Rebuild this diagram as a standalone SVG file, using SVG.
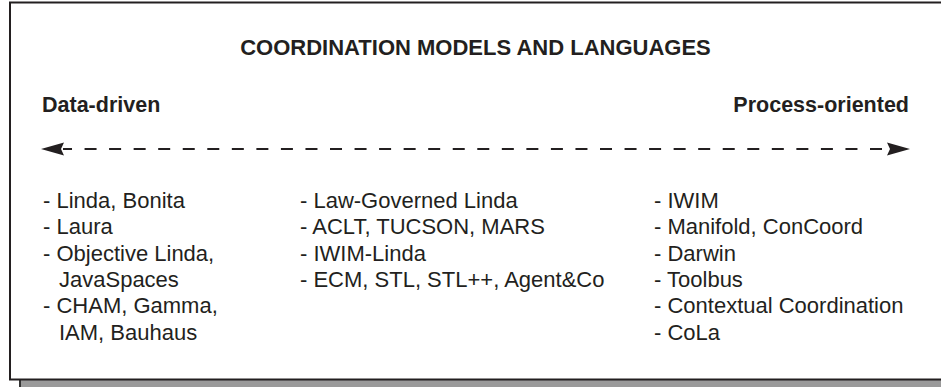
<svg xmlns="http://www.w3.org/2000/svg" width="941" height="387" viewBox="0 0 941 387">
<style>
  text { font-family: "Liberation Sans", Arial, sans-serif; fill: #231f20; }
  .title { font-size: 22px; font-weight: bold; }
  .head { font-size: 21.5px; font-weight: bold; }
  .item { font-size: 22px; }
  .frame { fill: #ffffff; stroke: #231f20; stroke-width: 2; }
  .shadow { fill: #9a9a9a; stroke: #333333; stroke-width: 2; }
  .axis { fill: none; stroke: #231f20; stroke-width: 2; stroke-dasharray: 12 12.545; }
  .head-arrow { fill: #231f20; stroke: none; }
</style>
<rect class="shadow" x="20" y="379" width="930" height="12"/>
<rect class="frame" x="10" y="2.5" width="940" height="377"/>
<g id="title">
  <text class="title" x="475.5" y="55" text-anchor="middle">COORDINATION MODELS AND LANGUAGES</text>
</g>
<g id="data-driven">
  <text class="head" x="42" y="112">Data-driven</text>
</g>
<g id="process-oriented">
  <text class="head" x="909" y="112" text-anchor="end">Process-oriented</text>
</g>
<g id="connectors">
  <path class="axis" d="M882,149 L63,149"/>
  <polygon class="head-arrow" points="41,149 64,142.5 61,149 64,155.5"/>
  <polygon class="head-arrow" points="910,149 887,142.5 890,149 887,155.5"/>
</g>
<g id="data-driven-list">
  <text class="item" x="43" y="208">- Linda, Bonita</text>
  <text class="item" x="43" y="234.3">- Laura</text>
  <text class="item" x="43" y="260.6">- Objective Linda,</text>
  <text class="item" x="59" y="286.9">JavaSpaces</text>
  <text class="item" x="43" y="313.2">- CHAM, Gamma,</text>
  <text class="item" x="59" y="339.5">IAM, Bauhaus</text>
</g>
<g id="middle-list">
  <text class="item" x="300" y="208">- Law-Governed Linda</text>
  <text class="item" x="300" y="234.3">- ACLT, TUCSON, MARS</text>
  <text class="item" x="300" y="260.6">- IWIM-Linda</text>
  <text class="item" x="300" y="286.9">- ECM, STL, STL++, Agent&amp;Co</text>
</g>
<g id="process-oriented-list">
  <text class="item" x="654" y="208">- IWIM</text>
  <text class="item" x="654" y="234.3">- Manifold, ConCoord</text>
  <text class="item" x="654" y="260.6">- Darwin</text>
  <text class="item" x="654" y="286.9">- Toolbus</text>
  <text class="item" x="654" y="313.2">- Contextual Coordination</text>
  <text class="item" x="654" y="339.5">- CoLa</text>
</g>
</svg>
